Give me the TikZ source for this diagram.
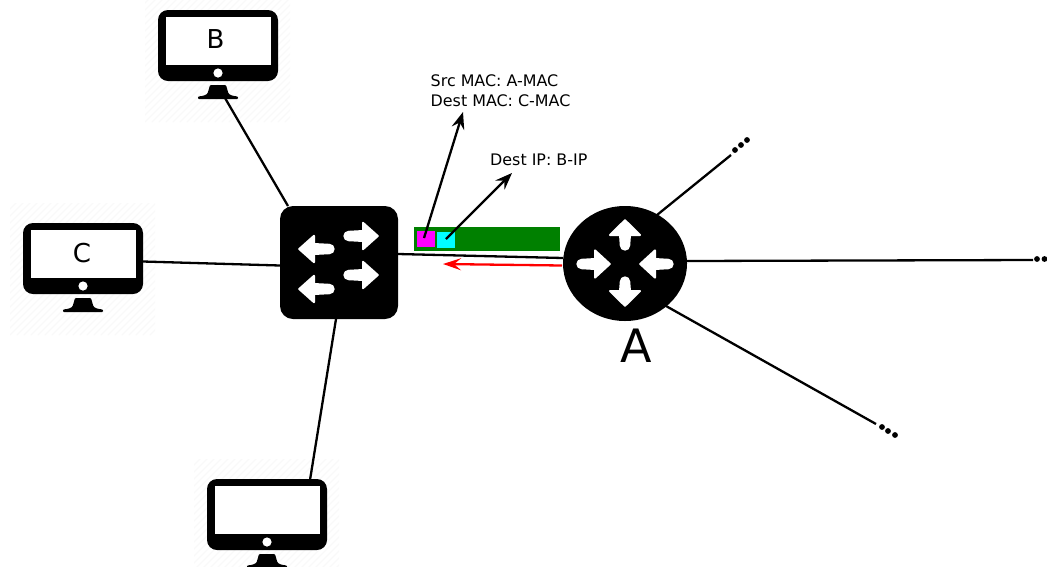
\documentclass[tikz,border=0pt]{standalone}
\usepackage{fontspec}
\setmainfont{DejaVu Sans}
\usetikzlibrary{shapes.geometric,arrows.meta}
\definecolor{pktgreen}{HTML}{008000}
\definecolor{pktmagenta}{HTML}{FF00FF}
\definecolor{pktcyan}{HTML}{00FFFF}
\definecolor{pktred}{HTML}{FF0000}
\tikzset{
  link/.style={draw=black,line width=2.3pt},
  callout/.style={draw=black,line width=2.3pt,-{Stealth[length=17pt,width=13pt,inset=6pt]}},
  reply/.style={draw=pktred,line width=2.3pt,-{Stealth[length=18pt,width=12pt,inset=7pt]}},
  dotnode/.style={circle,fill=black,inner sep=0pt,minimum size=5.8pt},
  monitorbody/.style={rectangle,fill=black,rounded corners=10pt,minimum width=120pt,minimum height=71pt,inner sep=0pt},
  monitorscreen/.style={rectangle,fill=white,minimum width=105pt,minimum height=48pt,inner sep=0pt},
  switchbody/.style={rectangle,fill=black,rounded corners=13pt,minimum width=118pt,minimum height=113pt,inner sep=0pt},
  routerbody/.style={ellipse,fill=black,minimum width=124pt,minimum height=115pt,inner sep=0pt},
  labeltext/.style={inner sep=0pt,anchor=base west,align=left,font=\fontsize{15.9}{20}\selectfont},
  hosttext/.style={inner sep=0pt,font=\fontsize{26}{30}\selectfont},
  arrowfill/.style={fill=white,draw=white,line width=2pt,line join=round}
}
% #1 name, #2 x, #3 y of the body's top left corner
\newcommand{\hostmonitor}[3]{
  \begin{scope}
    \clip (#2-13,#3-20) rectangle (#2+132,#3+112);
    \foreach \k in {0,7,...,280}{
      \draw[gray!5,line width=1.2pt] (#2-13+\k-140,#3+112) -- ++(140,-140);
    }
  \end{scope}
  \node[monitorbody] (#1) at (#2+60,#3+35.5) {};
  \node[monitorscreen] (#1s) at (#2+60,#3+31) {};
  \fill[white] (#2+60,#3+63) circle (4.6pt);
  \fill[black,rounded corners=1pt] (#2+52,#3+75) -- (#2+68,#3+75) -- (#2+70,#3+82) .. controls (#2+71,#3+85) and (#2+75,#3+86) .. (#2+80,#3+86.5) -- (#2+80,#3+89) -- (#2+40,#3+89) -- (#2+40,#3+86.5) .. controls (#2+45,#3+86) and (#2+49,#3+85) .. (#2+50,#3+82) -- cycle;
}
% tip at (#1,#2), direction #3, total length #4, head half width #5
\newcommand{\whitearrow}[5]{
  \begin{scope}[shift={(#1,#2)},rotate=#3]
    \path[arrowfill] (-1.2,0) -- (-16,#5) -- (-16,5) -- (-#4+4.5,4.2) -- (-#4+4.5,-4.2) -- (-16,-5) -- (-16,-#5) -- cycle;
    \fill[white] (-#4+4.5,0) circle (5.2pt);
  \end{scope}
}
\begin{document}
\begin{tikzpicture}[x=1pt,y=-1pt]
\useasboundingbox (0,0) rectangle (1047,566);
\fill[white] (0,0) rectangle (1047,566);

\hostmonitor{hostb}{158}{10}
\hostmonitor{hostc}{23}{223}
\hostmonitor{hostd}{207}{479}
\node[hosttext] (lblb) at (215.5,39) {B};
\node[hosttext] (lblc) at (82,253) {C};

\node[switchbody] (sw) at (339,262.5) {};
\whitearrow{379}{236}{0}{35}{13.2}
\whitearrow{379}{275}{0}{35}{13.2}
\whitearrow{298}{249}{180}{36}{13.2}
\whitearrow{298}{289}{180}{36}{13.2}

\node[routerbody] (rt) at (625,263.5) {};
\whitearrow{625}{219}{90}{31}{15}
\whitearrow{625}{307}{-90}{30}{15}
\whitearrow{611}{264}{0}{34}{13.6}
\whitearrow{639}{264}{180}{34}{13.6}
\node[inner sep=0pt,font=\fontsize{46}{50}\selectfont,anchor=base] (lbla) at (636,362) {A};

\node[rectangle,fill=pktgreen,minimum width=146pt,minimum height=24pt,inner sep=0pt] (pkt) at (487,239) {};
\node[rectangle,fill=pktmagenta,minimum width=18pt,minimum height=16pt,inner sep=0pt] (srcf) at (426,239) {};
\node[rectangle,fill=pktcyan,minimum width=18pt,minimum height=16pt,inner sep=0pt] (dstf) at (446,239.5) {};

\node[labeltext] (maclbl) at (430.5,106) {Src MAC: A-MAC\\Dest MAC: C-MAC};
\node[labeltext] (iplbl) at (490,165) {Dest IP: B-IP};

\node[dotnode] (d1a) at (735,150) {};
\node[dotnode] (d1b) at (741,145) {};
\node[dotnode] (d1c) at (747,140) {};
\node[dotnode] (d2a) at (1037,259) {};
\node[dotnode] (d2b) at (1044.5,259) {};
\node[dotnode] (d3a) at (882,427) {};
\node[dotnode] (d3b) at (888,431) {};
\node[dotnode] (d3c) at (895,435) {};

\coordinate (e1) at (731,155);
\coordinate (e2) at (1033,260);
\coordinate (e3) at (876,424);
\coordinate (t1) at (463,112);
\coordinate (t2) at (512,173);

\draw[link] ([shift={(7,52.5)}]hostb.center) -- ([shift={(-51,-56.5)}]sw.center);
\draw[link] ([shift={(60,3)}]hostc.center) -- ([shift={(-59,3)}]sw.center);
\draw[link] ([shift={(43,-34.5)}]hostd.center) -- ([shift={(-3,56.5)}]sw.center);
\draw[link] ([shift={(59,-8.5)}]sw.center) -- ([shift={(-62,-5.5)}]rt.center);
\draw[link] ([shift={(32,-48.5)}]rt.center) -- (e1);
\draw[link] ([shift={(62,-2.5)}]rt.center) -- (e2);
\draw[link] ([shift={(41,42.5)}]rt.center) -- (e3);
\draw[reply] ([shift={(-63,2)}]rt.center) -- ([shift={(-182,0.5)}]rt.center);
\draw[callout] ([shift={(-2,-1)}]srcf.center) -- (t1);
\draw[callout] ([shift={(0,-0.5)}]dstf.center) -- (t2);
\end{tikzpicture}
\end{document}
